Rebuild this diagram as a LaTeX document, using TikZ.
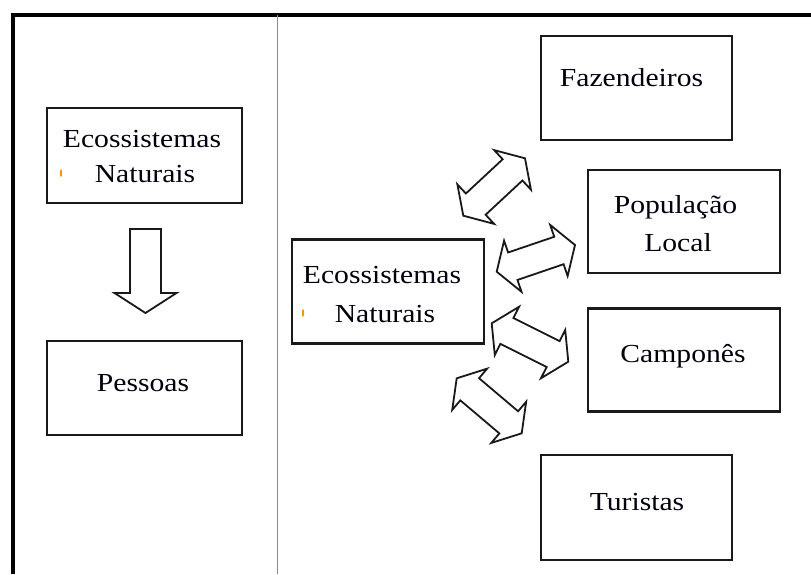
\documentclass[tikz,border=0pt]{standalone}
\usepackage{fontspec}
\setmainfont{Liberation Serif}[FakeStretch=1.14]
\usetikzlibrary{calc}
\newcommand{\dblarrow}[2]{%
  \coordinate (p1) at ($(#1)!17pt!(#2)$);
  \coordinate (p2) at ($(#2)!17pt!(#1)$);
  \draw[blockarrow] (#1) -- ($(p1)!27pt!90:(#2)$) -- ($(p1)!14.5pt!90:(#2)$)
    -- ($(p2)!14.5pt!-90:(#1)$) -- ($(p2)!27pt!-90:(#1)$) -- (#2)
    -- ($(p2)!27pt!90:(#1)$) -- ($(p2)!14.5pt!90:(#1)$)
    -- ($(p1)!14.5pt!-90:(#2)$) -- ($(p1)!27pt!-90:(#2)$) -- cycle;}
\begin{document}
\begin{tikzpicture}[x=1pt,y=-1pt,
  font=\fontsize{26}{30}\selectfont,
  box/.style={draw=black!90, line width=2.6pt, inner sep=0pt, outer sep=0pt},
  lbl/.style={anchor=base, inner sep=0pt, text=black!95!blue},
  blockarrow/.style={draw=black!90, line width=1.8pt, line join=miter, fill=white},
  framestyle/.style={line width=4pt, black, line join=miter},
  divider/.style={line width=1.3pt, black!45},
  tick/.style={fill=orange!85!yellow}]
\useasboundingbox (0,0) rectangle (811,574);
\fill[white] (0,0) rectangle (811,574);
% frame
\draw[framestyle] (811,15) -- (12.5,15) -- (12.5,574);
\draw[divider] (277.5,15) -- (277.5,574);
% boxes
\node[box, minimum width=195pt, minimum height=95pt] (eco1) at (144.5,155.5) {};
\node[box, minimum width=195pt, minimum height=94pt] (pes) at (144.5,388) {};
\node[box, minimum width=191pt, minimum height=104pt] (faz) at (636.5,88) {};
\node[box, minimum width=192pt, minimum height=103pt] (pop) at (684,221.5) {};
\node[box, minimum width=192pt, minimum height=104pt] (eco2) at (388,291.3) {};
\node[box, minimum width=192pt, minimum height=103pt] (cam) at (684,360) {};
\node[box, minimum width=191pt, minimum height=105pt] (tur) at (636.5,507.5) {};
% labels
\node[lbl] (t1a) at (142,147) {Ecossistemas};
\node[lbl] (t1b) at (145,182) {Naturais};
\node[lbl] (t2) at (143,391) {Pessoas};
\node[lbl] (t3) at (631.5,86) {Fazendeiros};
\node[lbl] (t4a) at (675.5,213) {População};
\node[lbl] (t4b) at (678,251) {Local};
\node[lbl] (t5a) at (382,283) {Ecossistemas};
\node[lbl] (t5b) at (385,322) {Naturais};
\node[lbl] (t6) at (683,362) {Camponês};
\node[lbl] (t7) at (637,510) {Turistas};
% small orange marks
\fill[tick] (61,173) ellipse (1.1pt and 4pt);
\fill[tick] (303,313) ellipse (1.1pt and 4pt);
% down block arrow
\coordinate (dtop) at ($(eco1.south)+(1,26)$);
\coordinate (dtip) at ($(pes.north)+(1,-28)$);
\draw[blockarrow] ($(dtop)+(-15.5,0)$) -- ($(dtop)+(15.5,0)$) -- ($(dtip)+(15.5,-20)$)
  -- ($(dtip)+(31,-20)$) -- (dtip) -- ($(dtip)+(-31,-20)$) -- ($(dtip)+(-15.5,-20)$) -- cycle;
% double block arrows
\coordinate (a1) at (463.3,215.7); \coordinate (b1) at (525,158.3);
\coordinate (a2) at (496.7,271.7); \coordinate (b2) at (575,245);
\coordinate (a3) at (491.7,323.3); \coordinate (b3) at (568.3,361.7);
\coordinate (a4) at (456.7,378.3); \coordinate (b4) at (521.7,433.3);
\dblarrow{a1}{b1}
\dblarrow{a2}{b2}
\dblarrow{a3}{b3}
\dblarrow{a4}{b4}
\end{tikzpicture}
\end{document}
